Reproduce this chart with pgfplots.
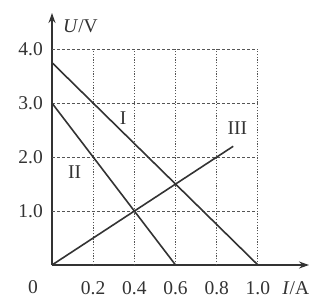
\documentclass[border=0pt]{standalone}
\usepackage{pgfplots}
\pgfplotsset{compat=1.18}
\usepackage{fontspec}
\setmainfont{Liberation Serif}
\usetikzlibrary{arrows.meta}
\definecolor{ink}{HTML}{333333}
\definecolor{gridc}{HTML}{555555}
\begin{document}
\begin{tikzpicture}[font=\fontsize{19.5}{22}\selectfont]
\path[use as bounding box] (-52pt,-33pt) rectangle (264pt,265pt);
\begin{axis}[
  anchor=origin, at={(0,0)},
  scale only axis, width=257pt, height=252pt,
  xmin=0, xmax=1.248, ymin=0, ymax=4.67,
  axis lines=left,
  axis line style={ink, line width=1.6pt, -{Stealth[length=10pt,width=7pt]}},
  xtick={0.2,0.4,0.6,0.8,1.0}, xticklabels={0.2,0.4,0.6,0.8,1.0},
  ytick={1,2,3,4}, yticklabels={1.0,2.0,3.0,4.0},
  major tick length=0pt,
  xticklabel style={anchor=center, inner sep=0pt, yshift=-23pt, text=ink},
  yticklabel style={anchor=east, inner sep=0pt, xshift=-9pt, text=ink},
  clip=false,
]
% grid lines
\addplot[gridc, line width=0.9pt, dash pattern=on 3pt off 2pt] coordinates {(0,1) (1.0,1)};
\addplot[gridc, line width=0.9pt, dash pattern=on 3pt off 2pt] coordinates {(0,2) (1.0,2)};
\addplot[gridc, line width=0.9pt, dash pattern=on 3pt off 2pt] coordinates {(0,3) (1.0,3)};
\addplot[gridc, line width=0.9pt, dash pattern=on 3pt off 2pt] coordinates {(0,4) (1.0,4)};
\addplot[gridc, line width=1pt, dash pattern=on 1.2pt off 1.6pt] coordinates {(0.2,0) (0.2,4)};
\addplot[gridc, line width=1pt, dash pattern=on 1.2pt off 1.6pt] coordinates {(0.4,0) (0.4,4)};
\addplot[gridc, line width=1pt, dash pattern=on 1.2pt off 1.6pt] coordinates {(0.6,0) (0.6,4)};
\addplot[gridc, line width=1pt, dash pattern=on 1.2pt off 1.6pt] coordinates {(0.8,0) (0.8,4)};
\addplot[gridc, line width=1pt, dash pattern=on 1.2pt off 1.6pt] coordinates {(1.0,0) (1.0,4)};
% lines
\addplot[ink, line width=1.6pt] coordinates {(0,3.75) (1.0,0)};
\addplot[ink, line width=1.6pt] coordinates {(0,3) (0.6,0)};
\addplot[ink, line width=1.6pt] coordinates {(0,0) (0.88,2.2)};
% labels
\node[text=ink] at (axis cs:0.345,2.72) {I};
\node[text=ink] at (axis cs:0.11,1.72) {II};
\node[text=ink] at (axis cs:0.90,2.53) {III};
\node[text=ink] at (axis cs:-0.092,-0.41) {0};
\node[text=ink, anchor=west, inner sep=0pt] at (axis cs:0.053,4.43) {\textit{U}/V};
\node[text=ink] at (axis cs:1.184,-0.43) {\textit{I}/A};
\end{axis}
\end{tikzpicture}
\end{document}
